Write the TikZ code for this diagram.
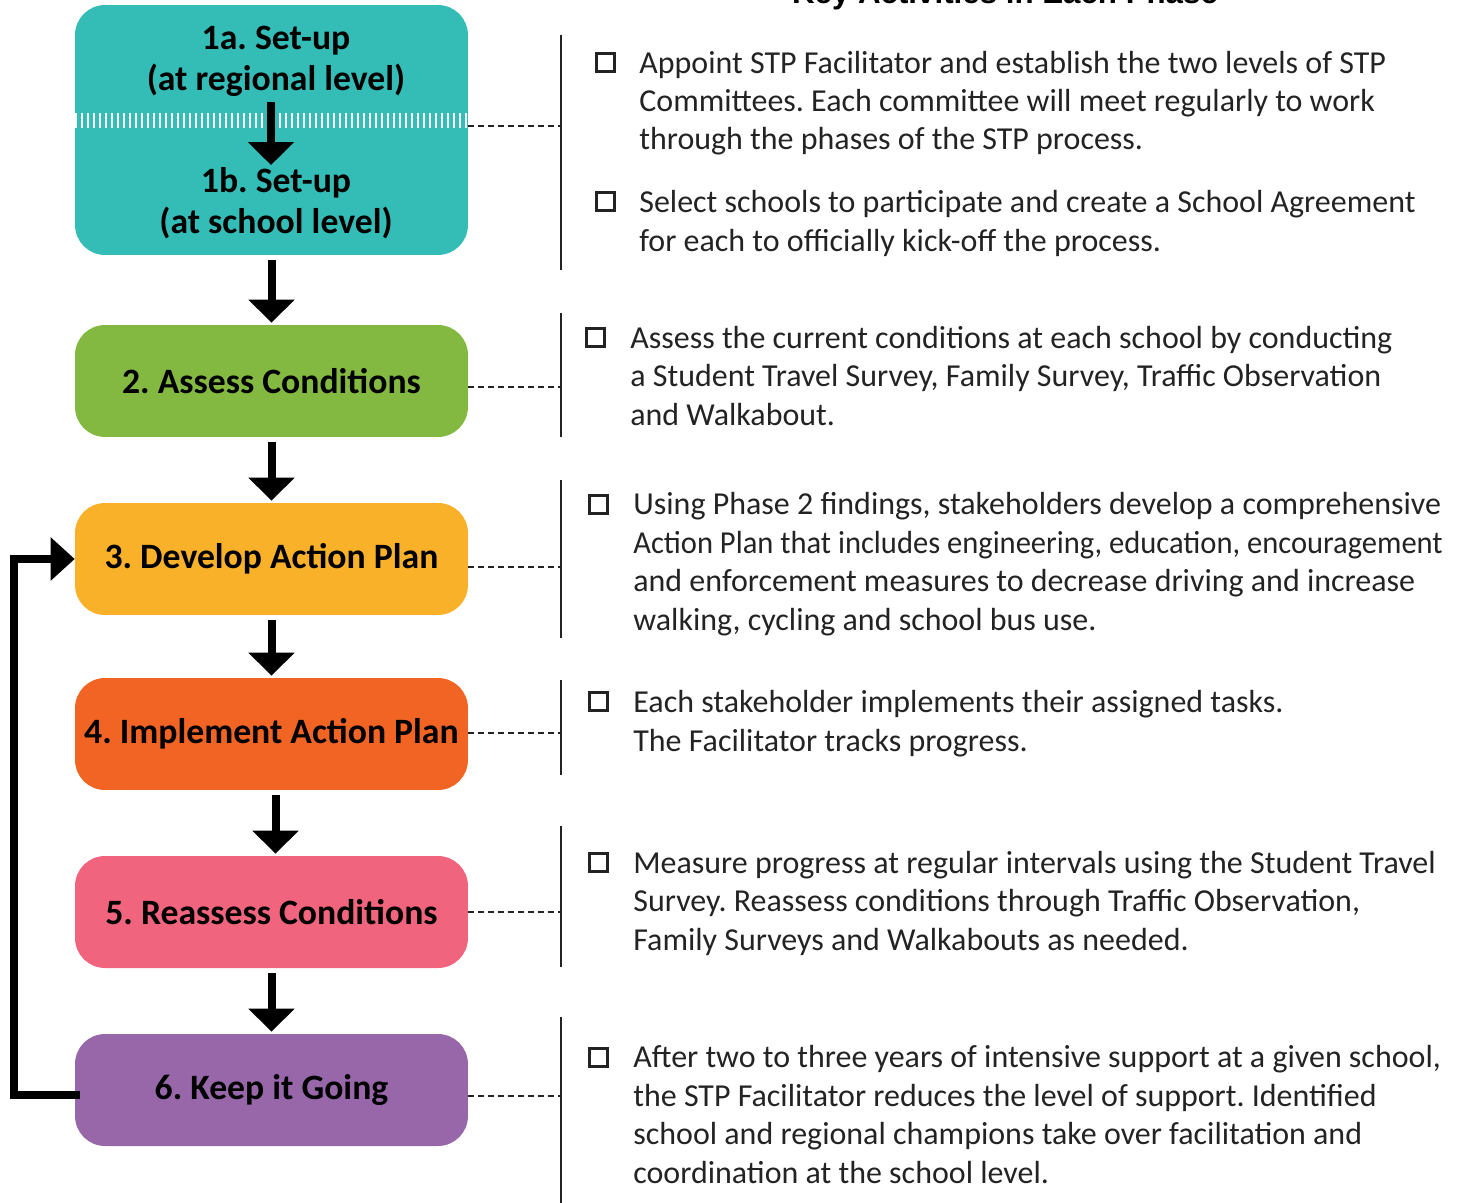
\documentclass[tikz,border=0pt]{standalone}
\usepackage{fontspec}
\setmainfont{Carlito}
\newfontfamily\titlefont{Liberation Sans}
\usepackage{tikz}
\usetikzlibrary{arrows.meta}
\frenchspacing

\definecolor{setupteal}{RGB}{51,189,182}
\definecolor{assessgreen}{RGB}{132,185,65}
\definecolor{planyellow}{RGB}{248,177,40}
\definecolor{doorange}{RGB}{241,100,35}
\definecolor{reassesspink}{RGB}{240,100,125}
\definecolor{keeppurple}{RGB}{152,103,170}
\definecolor{rulegray}{RGB}{35,35,35}

\tikzset{
  phase/.style={ rounded corners=0.6cm, minimum width=7.86cm, minimum height=2.24cm,
    inner sep=0pt, align=center, font=\fontsize{20.3}{23.3}\selectfont\bfseries }
}
\tikzset{
  flow/.style={ -{Triangle[width=0.9cm,length=0.46cm]}, line width=0.16cm,
    shorten <=0.1cm, shorten >=0.04cm }
}
\tikzset{
  loopback/.style={ -{Triangle[width=0.84cm,length=0.48cm]}, line width=0.16cm }
}
\tikzset{
  sepband/.style={ white, line width=0.3cm, dash pattern=on 0.05cm off 0.07cm }
}
\tikzset{
  leader/.style={ rulegray, line width=0.04cm, dash pattern=on 0.12cm off 0.08cm }
}
\tikzset{
  divider/.style={ rulegray, line width=0.05cm }
}
\tikzset{
  chkbox/.style={ draw=rulegray, line width=0.06cm, minimum size=0.36cm, inner sep=0pt, anchor=south west }
}
% base west of a note is the baseline of its last line
\tikzset{
  note/.style={ anchor=base west, align=left, inner sep=0pt, text=rulegray,
    font=\fontsize{18.2}{21.9}\selectfont }
}

\begin{document}
\begin{tikzpicture}[x=0.02cm, y=-0.02cm]
  \useasboundingbox (0,0) rectangle (1460,1203);

  % heading, cut by the top edge
  \node[anchor=base, font=\titlefont\fontsize{17.8}{20}\selectfont\bfseries] (head) at (1005,4) {Key Activities in Each Phase};

  % phases
  \node[phase, fill=setupteal, minimum height=5cm] (b1) at (271.5,130) {};
  \node[phase, fill=assessgreen] (b2) at (271.5,381) {2. Assess Conditions};
  \node[phase, fill=planyellow] (b3) at (271.5,559) {3. Develop Action Plan};
  \node[phase, fill=doorange] (b4) at (271.5,734) {4. Implement Action Plan};
  \node[phase, fill=reassesspink] (b5) at (271.5,912) {5. Reassess Conditions};
  \node[phase, fill=keeppurple] (b6) at (271.5,1090) {6. Keep it Going};

  \draw[sepband] ([yshift=0.19cm]b1.west) -- ([yshift=0.19cm]b1.east);
  \node[align=center, font=\fontsize{20.3}{23.3}\selectfont\bfseries] (s1a) at (276,61) {1a. Set-up\\(at regional level)};
  \node[align=center, font=\fontsize{20.3}{23.3}\selectfont\bfseries] (s1b) at (276,203) {1b. Set-up\\(at school level)};
  \draw[flow, shorten <=0.82cm, shorten >=0.76cm] ([xshift=-0.1cm]s1a.center) -- ([xshift=-0.1cm]s1b.center);

  \draw[flow] (b1) -- (b2);
  \draw[flow] (b2) -- (b3);
  \draw[flow] (b3) -- (b4);
  \draw[flow] ([xshift=0.08cm]b4.south) -- ([xshift=0.08cm]b5.north);
  \draw[flow] (b5) -- (b6);

  % back from 6 to 3
  \draw[loopback] ([xshift=0.1cm,yshift=-0.1cm]b6.west) -- ++(-66,0) |- (b3.west);

  % rules on the right
  \foreach \top/\bot in {35/270, 313/437, 480/638, 680/775, 826/967, 1017/1210}
    \draw[divider] (561,\top) -- (561,\bot);
  \coordinate (d1) at (561,126);
  \coordinate (d2) at (561,387);
  \coordinate (d3) at (561,567);
  \coordinate (d4) at (561,733);
  \coordinate (d5) at (561,912);
  \coordinate (d6) at (561,1096);
  \draw[leader] (b1.east |- d1) -- (d1);
  \draw[leader] (b2.east |- d2) -- (d2);
  \draw[leader] (b3.east |- d3) -- (d3);
  \draw[leader] (b4.east |- d4) -- (d4);
  \draw[leader] (b5.east |- d5) -- (d5);
  \draw[leader] (b6.east |- d6) -- (d6);

  % activities
  \node[chkbox] (c1a) at (595,73) {};
  \node[note] (t1a) at (639,150) {Appoint STP Facilitator and establish the two levels of STP\\Committees. Each committee will meet regularly to work\\through the phases of the STP process.};
  \node[chkbox] (c1b) at (595,212) {};
  \node[note] (t1b) at (639,251) {Select schools to participate and create a School Agreement\\for each to officially kick-off the process.};
  \node[chkbox] (c2) at (585,348) {};
  \node[note] (t2) at (630,425) {Assess the current conditions at each school by conducting\\a Student Travel Survey, Family Survey, Traffic Observation\\and Walkabout.};
  \node[chkbox] (c3) at (588,515) {};
  \node[note] (t3) at (633,630) {Using Phase 2 findings, stakeholders develop a comprehensive\\\scalebox{0.955}[1]{Action Plan that includes engineering, education, encouragement}\\and enforcement measures to decrease driving and increase\\walking, cycling and school bus use.};
  \node[chkbox] (c4) at (588,712) {};
  \node[note] (t4) at (633,751) {Each stakeholder implements their assigned tasks.\\The Facilitator tracks progress.};
  \node[chkbox] (c5) at (588,873) {};
  \node[note] (t5) at (633,950) {Measure progress at regular intervals using the Student Travel\\Survey. Reassess conditions through Traffic Observation,\\Family Surveys and Walkabouts as needed.};
  \node[chkbox] (c6) at (588,1068) {};
  \node[note] (t6) at (633,1183) {After two to three years of intensive support at a given school,\\the STP Facilitator reduces the level of support. Identified\\school and regional champions take over facilitation and\\coordination at the school level.};
\end{tikzpicture}
\end{document}
